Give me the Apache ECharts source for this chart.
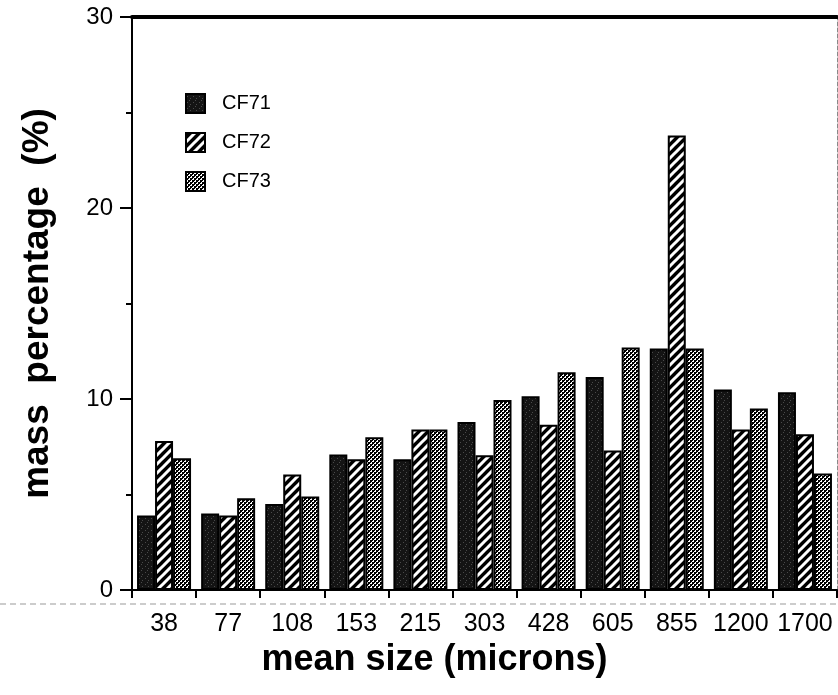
<!DOCTYPE html>
<html>
<head>
<meta charset="utf-8">
<script src="https://cdn.jsdelivr.net/npm/echarts@6/dist/echarts.min.js"></script>
<style>
html,body{margin:0;padding:0;background:#fff;}
#chart{width:838px;height:695px;}
</style>
</head>
<body>
<div id="chart"></div>
<script>
const categories = ['38','77','108','153','215','303','428','605','855','1200','1700'];
const seriesNames = ['CF71','CF72','CF73'];
const cf71 = [3.9, 4.0, 4.5, 7.1, 6.85, 8.8, 10.15, 11.15, 12.65, 10.5, 10.35];
const cf72 = [7.8, 3.9, 6.05, 6.85, 8.4, 7.05, 8.65, 7.3, 23.8, 8.4, 8.15];
const cf73 = [6.9, 4.8, 4.9, 8.0, 8.4, 9.95, 11.4, 12.7, 12.65, 9.5, 6.1];
const yTicks = {min: 0, max: 30, interval: 10};

function makePattern(kind) {
  const c = document.createElement('canvas');
  if (kind === 'solid') {
    c.width = 6; c.height = 6;
    const g = c.getContext('2d');
    g.fillStyle = '#141414'; g.fillRect(0,0,6,6);
    g.fillStyle = '#4a4a4a';
    g.fillRect(1,2,1,1); g.fillRect(4,4,1,1); g.fillRect(3,0,1,1);
  } else if (kind === 'hatch') {
    c.width = 9; c.height = 9;
    const g = c.getContext('2d');
    g.fillStyle = '#000'; g.fillRect(0,0,9,9);
    g.strokeStyle = '#fff'; g.lineWidth = 3;
    g.beginPath();
    g.moveTo(-2,11); g.lineTo(11,-2);
    g.moveTo(-7,7); g.lineTo(7,-7);
    g.moveTo(2,16); g.lineTo(16,2);
    g.stroke();
  } else {
    c.width = 4; c.height = 4;
    const g = c.getContext('2d');
    g.fillStyle = '#000'; g.fillRect(0,0,4,4);
    g.fillStyle = '#fff';
    g.fillRect(0,0,2,2); g.fillRect(2,2,2,2);
    g.fillStyle = '#000';
    g.fillRect(0,0,1,1); g.fillRect(2,2,1,1);
  }
  return {image: c, repeat: 'repeat'};
}

const fills = [makePattern('solid'), makePattern('hatch'), makePattern('check')];
const values = [cf71, cf72, cf73];
const FONT = '"Liberation Sans", Arial, Helvetica, sans-serif';

const chart = echarts.init(document.getElementById('chart'), null, {renderer: 'canvas'});
const option = {
  animation: false,
  backgroundColor: '#fff',
  grid: {left: 132, right: 1, top: 17, bottom: 105, containLabel: false},
  legend: {
    orient: 'vertical', left: 180, top: 88,
    itemWidth: 19, itemHeight: 19, itemGap: 18,
    icon: 'rect',
    data: seriesNames,
    textStyle: {fontFamily: FONT, fontSize: 20, color: '#000', padding: [0,0,0,12]}
  },
  xAxis: [{
    type: 'category', data: categories, position: 'bottom',
    boundaryGap: true,
    axisLine: {lineStyle: {color: '#000', width: 2}},
    axisTick: {show: true, alignWithLabel: false, length: 8, lineStyle: {color: '#000', width: 2}},
    axisLabel: {interval: 0, margin: 22, color: '#000', fontSize: 25, fontFamily: FONT},
    name: 'mean size (microns)', nameLocation: 'middle', nameGap: 46,
    nameTextStyle: {fontSize: 36, fontWeight: 'bold', color: '#000', fontFamily: FONT,
      padding: [0, 100, 0, 0]}
  }, {
    type: 'category', data: categories, position: 'top',
    axisLine: {show: true, onZero: false, lineStyle: {color: '#000', width: 4}},
    axisTick: {show: false}, axisLabel: {show: false}
  }],
  yAxis: [{
    type: 'value', min: yTicks.min, max: yTicks.max, interval: yTicks.interval,
    axisLine: {show: true, lineStyle: {color: '#000', width: 2}},
    axisTick: {show: true, length: 12, lineStyle: {color: '#000', width: 2}},
    minorTick: {show: true, splitNumber: 2, length: 6, lineStyle: {color: '#000', width: 2}},
    splitLine: {show: false},
    axisLabel: {margin: 19, color: '#000', fontSize: 24, fontFamily: FONT},
    name: 'mass  percentage  (%)', nameLocation: 'middle', nameGap: 76, nameRotate: 90,
    nameTextStyle: {fontSize: 37, fontWeight: 'bold', color: '#000', fontFamily: FONT}
  }, {
    type: 'value', position: 'right', min: yTicks.min, max: yTicks.max, interval: yTicks.interval,
    axisLine: {show: true, onZero: false, lineStyle: {color: '#888', width: 1, type: 'dashed'}},
    axisTick: {show: false}, axisLabel: {show: false}, splitLine: {show: false}
  }],
  graphic: [{
    type: 'line', shape: {x1: 0, y1: 604, x2: 838, y2: 604},
    style: {stroke: '#999', lineWidth: 1, lineDash: [6, 4]}, silent: true
  }],
  series: seriesNames.map((n, i) => ({
    name: n, type: 'bar', data: values[i],
    barWidth: 18, barGap: '0%',
    itemStyle: {color: fills[i], borderColor: '#000', borderWidth: 2}
  }))
};
chart.setOption(option);
</script>
</body>
</html>
